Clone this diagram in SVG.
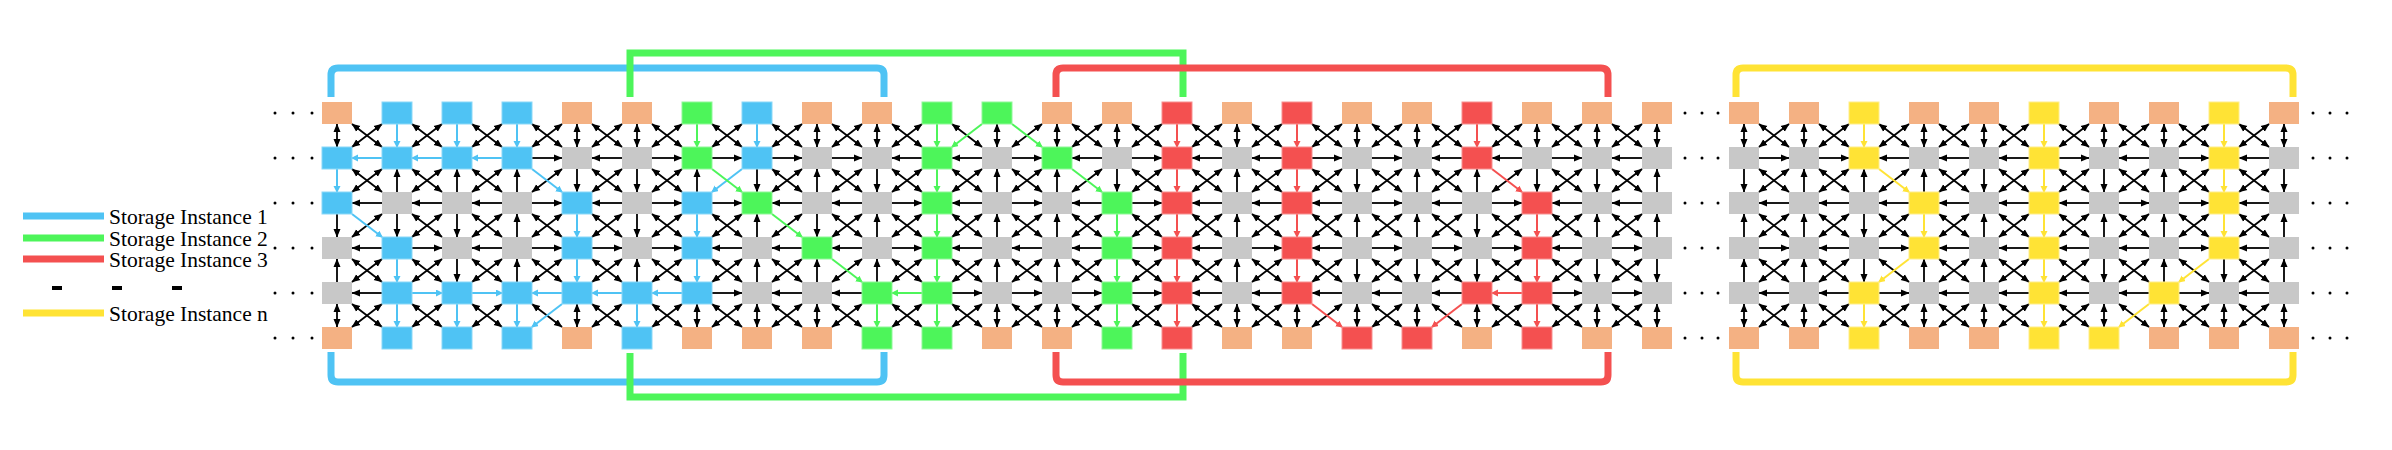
<svg xmlns="http://www.w3.org/2000/svg" xmlns:xlink="http://www.w3.org/1999/xlink" width="2392" height="450" viewBox="0 0 2392 450">
<style>
rect.o{fill:#F4B183}rect.b{fill:#4FC3F4;stroke:#8AD8F8}rect.g{fill:#4DF55A;stroke:#90F898}rect.r{fill:#F45050;stroke:#F89090}rect.y{fill:#FFE335;stroke:#FFEE88}rect.n{fill:#C8C8C8}
.k{stroke:#000;stroke-width:1.8;fill:none}
.cb{stroke:#4FC3F4;stroke-width:2}.cg{stroke:#4DF55A;stroke-width:2}.cr{stroke:#F45050;stroke-width:2}.cy{stroke:#FFE335;stroke-width:2}
.fr{fill:none;stroke-width:7}
.lg{font-family:"Liberation Serif",serif;font-size:21.5px;fill:#000}
</style>
<defs>
<marker id="mk" markerUnits="userSpaceOnUse" markerWidth="9" markerHeight="8" refX="8" refY="4" orient="auto-start-reverse"><path d="M0,0.5 L8.5,4 L0,7.5 z" fill="#000"/></marker>
<marker id="mb" markerUnits="userSpaceOnUse" markerWidth="8" markerHeight="8" refX="6" refY="3.5" orient="auto"><path d="M0,0 L7,3.5 L0,7 z" fill="#4FC3F4"/></marker>
<marker id="mg" markerUnits="userSpaceOnUse" markerWidth="8" markerHeight="8" refX="6" refY="3.5" orient="auto"><path d="M0,0 L7,3.5 L0,7 z" fill="#4DF55A"/></marker>
<marker id="mr" markerUnits="userSpaceOnUse" markerWidth="8" markerHeight="8" refX="6" refY="3.5" orient="auto"><path d="M0,0 L7,3.5 L0,7 z" fill="#F45050"/></marker>
<marker id="my" markerUnits="userSpaceOnUse" markerWidth="8" markerHeight="8" refX="6" refY="3.5" orient="auto"><path d="M0,0 L7,3.5 L0,7 z" fill="#FFE335"/></marker>
<line id="D" class="k" x1="0" y1="11" x2="0" y2="34" marker-start="url(#mk)" marker-end="url(#mk)"/>
<line id="d" class="k" x1="0" y1="11" x2="0" y2="34" marker-end="url(#mk)"/>
<line id="u" class="k" x1="0" y1="34" x2="0" y2="11" marker-end="url(#mk)"/>
<line id="r" class="k" x1="15" y1="0" x2="45" y2="0" marker-end="url(#mk)"/>
<line id="l" class="k" x1="45" y1="0" x2="15" y2="0" marker-end="url(#mk)"/>
<line id="BS" class="k" x1="15" y1="11" x2="45" y2="34" marker-start="url(#mk)" marker-end="url(#mk)"/>
<line id="FS" class="k" x1="45" y1="11" x2="15" y2="34" marker-start="url(#mk)" marker-end="url(#mk)"/>
<g id="X"><use href="#BS"/><use href="#FS"/></g>
<line id="vB" class="cb" x1="0" y1="11" x2="0" y2="34" marker-end="url(#mb)"/>
<line id="vG" class="cg" x1="0" y1="11" x2="0" y2="34" marker-end="url(#mg)"/>
<line id="vR" class="cr" x1="0" y1="11" x2="0" y2="34" marker-end="url(#mr)"/>
<line id="vY" class="cy" x1="0" y1="11" x2="0" y2="34" marker-end="url(#my)"/>
<line id="lB" class="cb" x1="45" y1="0" x2="15" y2="0" marker-end="url(#mb)"/>
<line id="rB" class="cb" x1="15" y1="0" x2="45" y2="0" marker-end="url(#mb)"/>
<line id="lG" class="cg" x1="45" y1="0" x2="15" y2="0" marker-end="url(#mg)"/>
<line id="lR" class="cr" x1="45" y1="0" x2="15" y2="0" marker-end="url(#mr)"/>
<line id="bB" class="cb" x1="15" y1="11" x2="45" y2="34" marker-end="url(#mb)"/>
<line id="fB" class="cb" x1="45" y1="11" x2="15" y2="34" marker-end="url(#mb)"/>
<line id="bG" class="cg" x1="15" y1="11" x2="45" y2="34" marker-end="url(#mg)"/>
<line id="fG" class="cg" x1="45" y1="11" x2="15" y2="34" marker-end="url(#mg)"/>
<line id="bR" class="cr" x1="15" y1="11" x2="45" y2="34" marker-end="url(#mr)"/>
<line id="fR" class="cr" x1="45" y1="11" x2="15" y2="34" marker-end="url(#mr)"/>
<line id="bY" class="cy" x1="15" y1="11" x2="45" y2="34" marker-end="url(#my)"/>
<line id="fY" class="cy" x1="45" y1="11" x2="15" y2="34" marker-end="url(#my)"/>
</defs>
<rect width="2392" height="450" fill="#fff"/>

<g id="frames">
<path class="fr" stroke="#4FC3F4" d="M331,97 V75 Q331,68 338,68 H877 Q884,68 884,75 V97 M331,352 V375 Q331,382 338,382 H877 Q884,382 884,375 V352"/>
<path class="fr" stroke="#4DF55A" d="M630,97 V53 H1183 V97 M630,353 V397 H1183 V353"/>
<path class="fr" stroke="#F45050" d="M1056,97 V75 Q1056,68 1063,68 H1601 Q1608,68 1608,75 V97 M1056,352 V375 Q1056,382 1063,382 H1601 Q1608,382 1608,375 V352"/>
<path class="fr" stroke="#FFE335" d="M1736,97 V75 Q1736,68 1743,68 H2286 Q2293,68 2293,75 V97 M1736,352 V375 Q1736,382 1743,382 H2286 Q2293,382 2293,375 V352"/>
</g>

<g id="legend">
<line x1="23" y1="216" x2="104" y2="216" stroke="#4FC3F4" stroke-width="7"/>
<line x1="23" y1="238" x2="104" y2="238" stroke="#4DF55A" stroke-width="7"/>
<line x1="23" y1="259" x2="104" y2="259" stroke="#F45050" stroke-width="7"/>
<line x1="23" y1="313" x2="104" y2="313" stroke="#FFE335" stroke-width="7"/>
<rect x="52" y="286" width="10" height="4"/><rect x="112" y="286" width="10" height="4"/><rect x="172" y="286" width="10" height="4"/>
<text class="lg" x="109" y="224">Storage Instance 1</text>
<text class="lg" x="109" y="246">Storage Instance 2</text>
<text class="lg" x="109" y="267">Storage Instance 3</text>
<text class="lg" x="109" y="321">Storage Instance n</text>
</g>

<g id="dots" fill="#000">
<circle cx="275" cy="113" r="1.5"/><circle cx="293" cy="113" r="1.5"/><circle cx="312" cy="113" r="1.5"/>
<circle cx="275" cy="158" r="1.5"/><circle cx="293" cy="158" r="1.5"/><circle cx="312" cy="158" r="1.5"/>
<circle cx="275" cy="203" r="1.5"/><circle cx="293" cy="203" r="1.5"/><circle cx="312" cy="203" r="1.5"/>
<circle cx="275" cy="248" r="1.5"/><circle cx="293" cy="248" r="1.5"/><circle cx="312" cy="248" r="1.5"/>
<circle cx="275" cy="293" r="1.5"/><circle cx="293" cy="293" r="1.5"/><circle cx="312" cy="293" r="1.5"/>
<circle cx="275" cy="338" r="1.5"/><circle cx="293" cy="338" r="1.5"/><circle cx="312" cy="338" r="1.5"/>
<circle cx="1685" cy="113" r="1.5"/><circle cx="1702" cy="113" r="1.5"/><circle cx="1718" cy="113" r="1.5"/>
<circle cx="1685" cy="158" r="1.5"/><circle cx="1702" cy="158" r="1.5"/><circle cx="1718" cy="158" r="1.5"/>
<circle cx="1685" cy="203" r="1.5"/><circle cx="1702" cy="203" r="1.5"/><circle cx="1718" cy="203" r="1.5"/>
<circle cx="1685" cy="248" r="1.5"/><circle cx="1702" cy="248" r="1.5"/><circle cx="1718" cy="248" r="1.5"/>
<circle cx="1685" cy="293" r="1.5"/><circle cx="1702" cy="293" r="1.5"/><circle cx="1718" cy="293" r="1.5"/>
<circle cx="1685" cy="338" r="1.5"/><circle cx="1702" cy="338" r="1.5"/><circle cx="1718" cy="338" r="1.5"/>
<circle cx="2313" cy="113" r="1.5"/><circle cx="2330" cy="113" r="1.5"/><circle cx="2347" cy="113" r="1.5"/>
<circle cx="2313" cy="158" r="1.5"/><circle cx="2330" cy="158" r="1.5"/><circle cx="2347" cy="158" r="1.5"/>
<circle cx="2313" cy="203" r="1.5"/><circle cx="2330" cy="203" r="1.5"/><circle cx="2347" cy="203" r="1.5"/>
<circle cx="2313" cy="248" r="1.5"/><circle cx="2330" cy="248" r="1.5"/><circle cx="2347" cy="248" r="1.5"/>
<circle cx="2313" cy="293" r="1.5"/><circle cx="2330" cy="293" r="1.5"/><circle cx="2347" cy="293" r="1.5"/>
<circle cx="2313" cy="338" r="1.5"/><circle cx="2330" cy="338" r="1.5"/><circle cx="2347" cy="338" r="1.5"/>
</g>

<g id="connectors">
<!-- diagonals left -->
<use href="#X" x="337" y="113"/><use href="#X" x="337" y="158"/><use href="#FS" x="337" y="203"/><use href="#bB" x="337" y="203"/><use href="#X" x="337" y="248"/><use href="#X" x="337" y="293"/>
<use href="#X" x="397" y="113"/><use href="#X" x="397" y="158"/><use href="#X" x="397" y="203"/><use href="#X" x="397" y="248"/><use href="#X" x="397" y="293"/>
<use href="#X" x="457" y="113"/><use href="#X" x="457" y="158"/><use href="#X" x="457" y="203"/><use href="#X" x="457" y="248"/><use href="#X" x="457" y="293"/>
<use href="#X" x="517" y="113"/><use href="#FS" x="517" y="158"/><use href="#bB" x="517" y="158"/><use href="#X" x="517" y="203"/><use href="#X" x="517" y="248"/><use href="#BS" x="517" y="293"/><use href="#fB" x="517" y="293"/>
<use href="#X" x="577" y="113"/><use href="#X" x="577" y="158"/><use href="#X" x="577" y="203"/><use href="#X" x="577" y="248"/><use href="#X" x="577" y="293"/>
<use href="#X" x="637" y="113"/><use href="#X" x="637" y="158"/><use href="#X" x="637" y="203"/><use href="#X" x="637" y="248"/><use href="#X" x="637" y="293"/>
<use href="#X" x="697" y="113"/><use href="#fB" x="697" y="158"/><use href="#bG" x="697" y="158"/><use href="#X" x="697" y="203"/><use href="#X" x="697" y="248"/><use href="#X" x="697" y="293"/>
<use href="#X" x="757" y="113"/><use href="#X" x="757" y="158"/><use href="#FS" x="757" y="203"/><use href="#bG" x="757" y="203"/><use href="#X" x="757" y="248"/><use href="#X" x="757" y="293"/>
<use href="#X" x="817" y="113"/><use href="#X" x="817" y="158"/><use href="#X" x="817" y="203"/><use href="#FS" x="817" y="248"/><use href="#bG" x="817" y="248"/><use href="#X" x="817" y="293"/>
<use href="#X" x="877" y="113"/><use href="#X" x="877" y="158"/><use href="#X" x="877" y="203"/><use href="#X" x="877" y="248"/><use href="#X" x="877" y="293"/>
<use href="#BS" x="937" y="113"/><use href="#fG" x="937" y="113"/><use href="#X" x="937" y="158"/><use href="#X" x="937" y="203"/><use href="#X" x="937" y="248"/><use href="#X" x="937" y="293"/>
<use href="#FS" x="997" y="113"/><use href="#bG" x="997" y="113"/><use href="#X" x="997" y="158"/><use href="#X" x="997" y="203"/><use href="#X" x="997" y="248"/><use href="#X" x="997" y="293"/>
<use href="#X" x="1057" y="113"/><use href="#FS" x="1057" y="158"/><use href="#bG" x="1057" y="158"/><use href="#X" x="1057" y="203"/><use href="#X" x="1057" y="248"/><use href="#X" x="1057" y="293"/>
<use href="#X" x="1117" y="113"/><use href="#X" x="1117" y="158"/><use href="#X" x="1117" y="203"/><use href="#X" x="1117" y="248"/><use href="#X" x="1117" y="293"/>
<use href="#X" x="1177" y="113"/><use href="#X" x="1177" y="158"/><use href="#X" x="1177" y="203"/><use href="#X" x="1177" y="248"/><use href="#X" x="1177" y="293"/>
<use href="#X" x="1237" y="113"/><use href="#X" x="1237" y="158"/><use href="#X" x="1237" y="203"/><use href="#X" x="1237" y="248"/><use href="#X" x="1237" y="293"/>
<use href="#X" x="1297" y="113"/><use href="#X" x="1297" y="158"/><use href="#X" x="1297" y="203"/><use href="#X" x="1297" y="248"/><use href="#FS" x="1297" y="293"/><use href="#bR" x="1297" y="293"/>
<use href="#X" x="1357" y="113"/><use href="#X" x="1357" y="158"/><use href="#X" x="1357" y="203"/><use href="#X" x="1357" y="248"/><use href="#X" x="1357" y="293"/>
<use href="#X" x="1417" y="113"/><use href="#X" x="1417" y="158"/><use href="#X" x="1417" y="203"/><use href="#X" x="1417" y="248"/><use href="#BS" x="1417" y="293"/><use href="#fR" x="1417" y="293"/>
<use href="#X" x="1477" y="113"/><use href="#FS" x="1477" y="158"/><use href="#bR" x="1477" y="158"/><use href="#X" x="1477" y="203"/><use href="#X" x="1477" y="248"/><use href="#X" x="1477" y="293"/>
<use href="#X" x="1537" y="113"/><use href="#X" x="1537" y="158"/><use href="#X" x="1537" y="203"/><use href="#X" x="1537" y="248"/><use href="#X" x="1537" y="293"/>
<use href="#X" x="1597" y="113"/><use href="#X" x="1597" y="158"/><use href="#X" x="1597" y="203"/><use href="#X" x="1597" y="248"/><use href="#X" x="1597" y="293"/>
<!-- diagonals right -->
<use href="#X" x="1744" y="113"/><use href="#X" x="1744" y="158"/><use href="#X" x="1744" y="203"/><use href="#X" x="1744" y="248"/><use href="#X" x="1744" y="293"/>
<use href="#X" x="1804" y="113"/><use href="#X" x="1804" y="158"/><use href="#X" x="1804" y="203"/><use href="#X" x="1804" y="248"/><use href="#X" x="1804" y="293"/>
<use href="#X" x="1864" y="113"/><use href="#FS" x="1864" y="158"/><use href="#bY" x="1864" y="158"/><use href="#X" x="1864" y="203"/><use href="#BS" x="1864" y="248"/><use href="#fY" x="1864" y="248"/><use href="#X" x="1864" y="293"/>
<use href="#X" x="1924" y="113"/><use href="#X" x="1924" y="158"/><use href="#X" x="1924" y="203"/><use href="#X" x="1924" y="248"/><use href="#X" x="1924" y="293"/>
<use href="#X" x="1984" y="113"/><use href="#X" x="1984" y="158"/><use href="#X" x="1984" y="203"/><use href="#X" x="1984" y="248"/><use href="#X" x="1984" y="293"/>
<use href="#X" x="2044" y="113"/><use href="#X" x="2044" y="158"/><use href="#X" x="2044" y="203"/><use href="#X" x="2044" y="248"/><use href="#X" x="2044" y="293"/>
<use href="#X" x="2104" y="113"/><use href="#X" x="2104" y="158"/><use href="#X" x="2104" y="203"/><use href="#X" x="2104" y="248"/><use href="#BS" x="2104" y="293"/><use href="#fY" x="2104" y="293"/>
<use href="#X" x="2164" y="113"/><use href="#X" x="2164" y="158"/><use href="#X" x="2164" y="203"/><use href="#BS" x="2164" y="248"/><use href="#fY" x="2164" y="248"/><use href="#X" x="2164" y="293"/>
<use href="#X" x="2224" y="113"/><use href="#X" x="2224" y="158"/><use href="#X" x="2224" y="203"/><use href="#X" x="2224" y="248"/><use href="#X" x="2224" y="293"/>
<!-- verticals left -->
<use href="#D" x="337" y="113"/><use href="#vB" x="337" y="158"/><use href="#d" x="337" y="203"/><use href="#u" x="337" y="248"/><use href="#D" x="337" y="293"/>
<use href="#vB" x="397" y="113"/><use href="#u" x="397" y="158"/><use href="#d" x="397" y="203"/><use href="#vB" x="397" y="248"/><use href="#vB" x="397" y="293"/>
<use href="#vB" x="457" y="113"/><use href="#u" x="457" y="158"/><use href="#d" x="457" y="203"/><use href="#d" x="457" y="248"/><use href="#vB" x="457" y="293"/>
<use href="#vB" x="517" y="113"/><use href="#u" x="517" y="158"/><use href="#u" x="517" y="203"/><use href="#u" x="517" y="248"/><use href="#vB" x="517" y="293"/>
<use href="#D" x="577" y="113"/><use href="#d" x="577" y="158"/><use href="#vB" x="577" y="203"/><use href="#vB" x="577" y="248"/><use href="#D" x="577" y="293"/>
<use href="#D" x="637" y="113"/><use href="#d" x="637" y="158"/><use href="#d" x="637" y="203"/><use href="#u" x="637" y="248"/><use href="#vB" x="637" y="293"/>
<use href="#vG" x="697" y="113"/><use href="#u" x="697" y="158"/><use href="#vB" x="697" y="203"/><use href="#vB" x="697" y="248"/><use href="#D" x="697" y="293"/>
<use href="#vB" x="757" y="113"/><use href="#d" x="757" y="158"/><use href="#u" x="757" y="203"/><use href="#u" x="757" y="248"/><use href="#D" x="757" y="293"/>
<use href="#D" x="817" y="113"/><use href="#u" x="817" y="158"/><use href="#d" x="817" y="203"/><use href="#u" x="817" y="248"/><use href="#D" x="817" y="293"/>
<use href="#D" x="877" y="113"/><use href="#d" x="877" y="158"/><use href="#u" x="877" y="203"/><use href="#u" x="877" y="248"/><use href="#vG" x="877" y="293"/>
<use href="#vG" x="937" y="113"/><use href="#vG" x="937" y="158"/><use href="#vG" x="937" y="203"/><use href="#vG" x="937" y="248"/><use href="#vG" x="937" y="293"/>
<use href="#D" x="997" y="113"/><use href="#u" x="997" y="158"/><use href="#u" x="997" y="203"/><use href="#u" x="997" y="248"/><use href="#D" x="997" y="293"/>
<use href="#D" x="1057" y="113"/><use href="#u" x="1057" y="158"/><use href="#u" x="1057" y="203"/><use href="#u" x="1057" y="248"/><use href="#D" x="1057" y="293"/>
<use href="#D" x="1117" y="113"/><use href="#d" x="1117" y="158"/><use href="#vG" x="1117" y="203"/><use href="#vG" x="1117" y="248"/><use href="#vG" x="1117" y="293"/>
<use href="#vR" x="1177" y="113"/><use href="#vR" x="1177" y="158"/><use href="#vR" x="1177" y="203"/><use href="#vR" x="1177" y="248"/><use href="#vR" x="1177" y="293"/>
<use href="#D" x="1237" y="113"/><use href="#u" x="1237" y="158"/><use href="#u" x="1237" y="203"/><use href="#u" x="1237" y="248"/><use href="#D" x="1237" y="293"/>
<use href="#vR" x="1297" y="113"/><use href="#vR" x="1297" y="158"/><use href="#vR" x="1297" y="203"/><use href="#vR" x="1297" y="248"/><use href="#D" x="1297" y="293"/>
<use href="#D" x="1357" y="113"/><use href="#d" x="1357" y="158"/><use href="#u" x="1357" y="203"/><use href="#d" x="1357" y="248"/><use href="#D" x="1357" y="293"/>
<use href="#D" x="1417" y="113"/><use href="#u" x="1417" y="158"/><use href="#u" x="1417" y="203"/><use href="#d" x="1417" y="248"/><use href="#D" x="1417" y="293"/>
<use href="#vR" x="1477" y="113"/><use href="#u" x="1477" y="158"/><use href="#d" x="1477" y="203"/><use href="#d" x="1477" y="248"/><use href="#D" x="1477" y="293"/>
<use href="#D" x="1537" y="113"/><use href="#d" x="1537" y="158"/><use href="#vR" x="1537" y="203"/><use href="#vR" x="1537" y="248"/><use href="#vR" x="1537" y="293"/>
<use href="#D" x="1597" y="113"/><use href="#d" x="1597" y="158"/><use href="#u" x="1597" y="203"/><use href="#d" x="1597" y="248"/><use href="#D" x="1597" y="293"/>
<use href="#D" x="1657" y="113"/><use href="#u" x="1657" y="158"/><use href="#u" x="1657" y="203"/><use href="#d" x="1657" y="248"/><use href="#D" x="1657" y="293"/>
<!-- verticals right -->
<use href="#D" x="1744" y="113"/><use href="#d" x="1744" y="158"/><use href="#u" x="1744" y="203"/><use href="#u" x="1744" y="248"/><use href="#D" x="1744" y="293"/>
<use href="#D" x="1804" y="113"/><use href="#u" x="1804" y="158"/><use href="#u" x="1804" y="203"/><use href="#u" x="1804" y="248"/><use href="#D" x="1804" y="293"/>
<use href="#vY" x="1864" y="113"/><use href="#u" x="1864" y="158"/><use href="#d" x="1864" y="203"/><use href="#d" x="1864" y="248"/><use href="#vY" x="1864" y="293"/>
<use href="#D" x="1924" y="113"/><use href="#u" x="1924" y="158"/><use href="#vY" x="1924" y="203"/><use href="#u" x="1924" y="248"/><use href="#D" x="1924" y="293"/>
<use href="#D" x="1984" y="113"/><use href="#d" x="1984" y="158"/><use href="#u" x="1984" y="203"/><use href="#u" x="1984" y="248"/><use href="#D" x="1984" y="293"/>
<use href="#vY" x="2044" y="113"/><use href="#vY" x="2044" y="158"/><use href="#vY" x="2044" y="203"/><use href="#vY" x="2044" y="248"/><use href="#vY" x="2044" y="293"/>
<use href="#D" x="2104" y="113"/><use href="#d" x="2104" y="158"/><use href="#u" x="2104" y="203"/><use href="#d" x="2104" y="248"/><use href="#D" x="2104" y="293"/>
<use href="#D" x="2164" y="113"/><use href="#u" x="2164" y="158"/><use href="#u" x="2164" y="203"/><use href="#u" x="2164" y="248"/><use href="#D" x="2164" y="293"/>
<use href="#vY" x="2224" y="113"/><use href="#vY" x="2224" y="158"/><use href="#vY" x="2224" y="203"/><use href="#d" x="2224" y="248"/><use href="#D" x="2224" y="293"/>
<use href="#D" x="2284" y="113"/><use href="#d" x="2284" y="158"/><use href="#u" x="2284" y="203"/><use href="#u" x="2284" y="248"/><use href="#D" x="2284" y="293"/>
<!-- horizontals left row1 -->
<use href="#lB" x="337" y="158"/><use href="#lB" x="397" y="158"/><use href="#lB" x="457" y="158"/><use href="#r" x="517" y="158"/><use href="#l" x="577" y="158"/><use href="#r" x="637" y="158"/><use href="#r" x="697" y="158"/><use href="#r" x="757" y="158"/><use href="#r" x="817" y="158"/><use href="#l" x="877" y="158"/><use href="#l" x="937" y="158"/><use href="#r" x="997" y="158"/><use href="#l" x="1057" y="158"/><use href="#r" x="1117" y="158"/><use href="#l" x="1177" y="158"/><use href="#l" x="1237" y="158"/><use href="#r" x="1297" y="158"/><use href="#r" x="1357" y="158"/><use href="#l" x="1417" y="158"/><use href="#l" x="1477" y="158"/><use href="#r" x="1537" y="158"/><use href="#l" x="1597" y="158"/>
<!-- row2 -->
<use href="#l" x="337" y="203"/><use href="#l" x="397" y="203"/><use href="#l" x="457" y="203"/><use href="#r" x="517" y="203"/><use href="#l" x="577" y="203"/><use href="#r" x="637" y="203"/><use href="#r" x="697" y="203"/><use href="#l" x="757" y="203"/><use href="#l" x="817" y="203"/><use href="#r" x="877" y="203"/><use href="#l" x="937" y="203"/><use href="#r" x="997" y="203"/><use href="#l" x="1057" y="203"/><use href="#r" x="1117" y="203"/><use href="#l" x="1177" y="203"/><use href="#l" x="1237" y="203"/><use href="#l" x="1297" y="203"/><use href="#r" x="1357" y="203"/><use href="#l" x="1417" y="203"/><use href="#r" x="1477" y="203"/><use href="#l" x="1537" y="203"/><use href="#l" x="1597" y="203"/>
<!-- row3 -->
<use href="#l" x="337" y="248"/><use href="#r" x="397" y="248"/><use href="#l" x="457" y="248"/><use href="#r" x="517" y="248"/><use href="#r" x="577" y="248"/><use href="#r" x="637" y="248"/><use href="#l" x="697" y="248"/><use href="#l" x="757" y="248"/><use href="#l" x="817" y="248"/><use href="#r" x="877" y="248"/><use href="#l" x="937" y="248"/><use href="#l" x="997" y="248"/><use href="#l" x="1057" y="248"/><use href="#r" x="1117" y="248"/><use href="#l" x="1177" y="248"/><use href="#r" x="1237" y="248"/><use href="#l" x="1297" y="248"/><use href="#r" x="1357" y="248"/><use href="#r" x="1417" y="248"/><use href="#r" x="1477" y="248"/><use href="#l" x="1537" y="248"/><use href="#r" x="1597" y="248"/>
<!-- row4 -->
<use href="#l" x="337" y="293"/><use href="#rB" x="397" y="293"/><use href="#rB" x="457" y="293"/><use href="#lB" x="517" y="293"/><use href="#lB" x="577" y="293"/><use href="#lB" x="637" y="293"/><use href="#r" x="697" y="293"/><use href="#l" x="757" y="293"/><use href="#l" x="817" y="293"/><use href="#lG" x="877" y="293"/><use href="#r" x="937" y="293"/><use href="#r" x="997" y="293"/><use href="#r" x="1057" y="293"/><use href="#r" x="1117" y="293"/><use href="#l" x="1177" y="293"/><use href="#l" x="1237" y="293"/><use href="#l" x="1297" y="293"/><use href="#l" x="1357" y="293"/><use href="#l" x="1417" y="293"/><use href="#lR" x="1477" y="293"/><use href="#r" x="1537" y="293"/><use href="#r" x="1597" y="293"/>
<!-- horizontals right -->
<use href="#r" x="1744" y="158"/><use href="#r" x="1804" y="158"/><use href="#l" x="1864" y="158"/><use href="#l" x="1924" y="158"/><use href="#l" x="1984" y="158"/><use href="#r" x="2044" y="158"/><use href="#l" x="2104" y="158"/><use href="#r" x="2164" y="158"/><use href="#l" x="2224" y="158"/>
<use href="#l" x="1744" y="203"/><use href="#l" x="1804" y="203"/><use href="#l" x="1864" y="203"/><use href="#l" x="1924" y="203"/><use href="#l" x="1984" y="203"/><use href="#l" x="2044" y="203"/><use href="#r" x="2104" y="203"/><use href="#r" x="2164" y="203"/><use href="#l" x="2224" y="203"/>
<use href="#r" x="1744" y="248"/><use href="#l" x="1804" y="248"/><use href="#r" x="1864" y="248"/><use href="#l" x="1924" y="248"/><use href="#l" x="1984" y="248"/><use href="#l" x="2044" y="248"/><use href="#l" x="2104" y="248"/><use href="#r" x="2164" y="248"/><use href="#l" x="2224" y="248"/>
<use href="#l" x="1744" y="293"/><use href="#l" x="1804" y="293"/><use href="#r" x="1864" y="293"/><use href="#l" x="1924" y="293"/><use href="#l" x="1984" y="293"/><use href="#l" x="2044" y="293"/><use href="#l" x="2104" y="293"/><use href="#r" x="2164" y="293"/><use href="#l" x="2224" y="293"/>
</g>

<g id="nodes">
<!-- row0 -->
<g id="n0-0"><rect class="o" x="322" y="102" width="30" height="22"/></g>
<g id="n1-0"><rect class="b" x="382" y="102" width="30" height="22"/></g>
<g id="n2-0"><rect class="b" x="442" y="102" width="30" height="22"/></g>
<g id="n3-0"><rect class="b" x="502" y="102" width="30" height="22"/></g>
<g id="n4-0"><rect class="o" x="562" y="102" width="30" height="22"/></g>
<g id="n5-0"><rect class="o" x="622" y="102" width="30" height="22"/></g>
<g id="n6-0"><rect class="g" x="682" y="102" width="30" height="22"/></g>
<g id="n7-0"><rect class="b" x="742" y="102" width="30" height="22"/></g>
<g id="n8-0"><rect class="o" x="802" y="102" width="30" height="22"/></g>
<g id="n9-0"><rect class="o" x="862" y="102" width="30" height="22"/></g>
<g id="n10-0"><rect class="g" x="922" y="102" width="30" height="22"/></g>
<g id="n11-0"><rect class="g" x="982" y="102" width="30" height="22"/></g>
<g id="n12-0"><rect class="o" x="1042" y="102" width="30" height="22"/></g>
<g id="n13-0"><rect class="o" x="1102" y="102" width="30" height="22"/></g>
<g id="n14-0"><rect class="r" x="1162" y="102" width="30" height="22"/></g>
<g id="n15-0"><rect class="o" x="1222" y="102" width="30" height="22"/></g>
<g id="n16-0"><rect class="r" x="1282" y="102" width="30" height="22"/></g>
<g id="n17-0"><rect class="o" x="1342" y="102" width="30" height="22"/></g>
<g id="n18-0"><rect class="o" x="1402" y="102" width="30" height="22"/></g>
<g id="n19-0"><rect class="r" x="1462" y="102" width="30" height="22"/></g>
<g id="n20-0"><rect class="o" x="1522" y="102" width="30" height="22"/></g>
<g id="n21-0"><rect class="o" x="1582" y="102" width="30" height="22"/></g>
<g id="n22-0"><rect class="o" x="1642" y="102" width="30" height="22"/></g>
<!-- row1 -->
<g id="n0-1"><rect class="b" x="322" y="147" width="30" height="22"/></g>
<g id="n1-1"><rect class="b" x="382" y="147" width="30" height="22"/></g>
<g id="n2-1"><rect class="b" x="442" y="147" width="30" height="22"/></g>
<g id="n3-1"><rect class="b" x="502" y="147" width="30" height="22"/></g>
<g id="n4-1"><rect class="n" x="562" y="147" width="30" height="22"/></g>
<g id="n5-1"><rect class="n" x="622" y="147" width="30" height="22"/></g>
<g id="n6-1"><rect class="g" x="682" y="147" width="30" height="22"/></g>
<g id="n7-1"><rect class="b" x="742" y="147" width="30" height="22"/></g>
<g id="n8-1"><rect class="n" x="802" y="147" width="30" height="22"/></g>
<g id="n9-1"><rect class="n" x="862" y="147" width="30" height="22"/></g>
<g id="n10-1"><rect class="g" x="922" y="147" width="30" height="22"/></g>
<g id="n11-1"><rect class="n" x="982" y="147" width="30" height="22"/></g>
<g id="n12-1"><rect class="g" x="1042" y="147" width="30" height="22"/></g>
<g id="n13-1"><rect class="n" x="1102" y="147" width="30" height="22"/></g>
<g id="n14-1"><rect class="r" x="1162" y="147" width="30" height="22"/></g>
<g id="n15-1"><rect class="n" x="1222" y="147" width="30" height="22"/></g>
<g id="n16-1"><rect class="r" x="1282" y="147" width="30" height="22"/></g>
<g id="n17-1"><rect class="n" x="1342" y="147" width="30" height="22"/></g>
<g id="n18-1"><rect class="n" x="1402" y="147" width="30" height="22"/></g>
<g id="n19-1"><rect class="r" x="1462" y="147" width="30" height="22"/></g>
<g id="n20-1"><rect class="n" x="1522" y="147" width="30" height="22"/></g>
<g id="n21-1"><rect class="n" x="1582" y="147" width="30" height="22"/></g>
<g id="n22-1"><rect class="n" x="1642" y="147" width="30" height="22"/></g>
<!-- row2 -->
<g id="n0-2"><rect class="b" x="322" y="192" width="30" height="22"/></g>
<g id="n1-2"><rect class="n" x="382" y="192" width="30" height="22"/></g>
<g id="n2-2"><rect class="n" x="442" y="192" width="30" height="22"/></g>
<g id="n3-2"><rect class="n" x="502" y="192" width="30" height="22"/></g>
<g id="n4-2"><rect class="b" x="562" y="192" width="30" height="22"/></g>
<g id="n5-2"><rect class="n" x="622" y="192" width="30" height="22"/></g>
<g id="n6-2"><rect class="b" x="682" y="192" width="30" height="22"/></g>
<g id="n7-2"><rect class="g" x="742" y="192" width="30" height="22"/></g>
<g id="n8-2"><rect class="n" x="802" y="192" width="30" height="22"/></g>
<g id="n9-2"><rect class="n" x="862" y="192" width="30" height="22"/></g>
<g id="n10-2"><rect class="g" x="922" y="192" width="30" height="22"/></g>
<g id="n11-2"><rect class="n" x="982" y="192" width="30" height="22"/></g>
<g id="n12-2"><rect class="n" x="1042" y="192" width="30" height="22"/></g>
<g id="n13-2"><rect class="g" x="1102" y="192" width="30" height="22"/></g>
<g id="n14-2"><rect class="r" x="1162" y="192" width="30" height="22"/></g>
<g id="n15-2"><rect class="n" x="1222" y="192" width="30" height="22"/></g>
<g id="n16-2"><rect class="r" x="1282" y="192" width="30" height="22"/></g>
<g id="n17-2"><rect class="n" x="1342" y="192" width="30" height="22"/></g>
<g id="n18-2"><rect class="n" x="1402" y="192" width="30" height="22"/></g>
<g id="n19-2"><rect class="n" x="1462" y="192" width="30" height="22"/></g>
<g id="n20-2"><rect class="r" x="1522" y="192" width="30" height="22"/></g>
<g id="n21-2"><rect class="n" x="1582" y="192" width="30" height="22"/></g>
<g id="n22-2"><rect class="n" x="1642" y="192" width="30" height="22"/></g>
<!-- row3 -->
<g id="n0-3"><rect class="n" x="322" y="237" width="30" height="22"/></g>
<g id="n1-3"><rect class="b" x="382" y="237" width="30" height="22"/></g>
<g id="n2-3"><rect class="n" x="442" y="237" width="30" height="22"/></g>
<g id="n3-3"><rect class="n" x="502" y="237" width="30" height="22"/></g>
<g id="n4-3"><rect class="b" x="562" y="237" width="30" height="22"/></g>
<g id="n5-3"><rect class="n" x="622" y="237" width="30" height="22"/></g>
<g id="n6-3"><rect class="b" x="682" y="237" width="30" height="22"/></g>
<g id="n7-3"><rect class="n" x="742" y="237" width="30" height="22"/></g>
<g id="n8-3"><rect class="g" x="802" y="237" width="30" height="22"/></g>
<g id="n9-3"><rect class="n" x="862" y="237" width="30" height="22"/></g>
<g id="n10-3"><rect class="g" x="922" y="237" width="30" height="22"/></g>
<g id="n11-3"><rect class="n" x="982" y="237" width="30" height="22"/></g>
<g id="n12-3"><rect class="n" x="1042" y="237" width="30" height="22"/></g>
<g id="n13-3"><rect class="g" x="1102" y="237" width="30" height="22"/></g>
<g id="n14-3"><rect class="r" x="1162" y="237" width="30" height="22"/></g>
<g id="n15-3"><rect class="n" x="1222" y="237" width="30" height="22"/></g>
<g id="n16-3"><rect class="r" x="1282" y="237" width="30" height="22"/></g>
<g id="n17-3"><rect class="n" x="1342" y="237" width="30" height="22"/></g>
<g id="n18-3"><rect class="n" x="1402" y="237" width="30" height="22"/></g>
<g id="n19-3"><rect class="n" x="1462" y="237" width="30" height="22"/></g>
<g id="n20-3"><rect class="r" x="1522" y="237" width="30" height="22"/></g>
<g id="n21-3"><rect class="n" x="1582" y="237" width="30" height="22"/></g>
<g id="n22-3"><rect class="n" x="1642" y="237" width="30" height="22"/></g>
<!-- row4 -->
<g id="n0-4"><rect class="n" x="322" y="282" width="30" height="22"/></g>
<g id="n1-4"><rect class="b" x="382" y="282" width="30" height="22"/></g>
<g id="n2-4"><rect class="b" x="442" y="282" width="30" height="22"/></g>
<g id="n3-4"><rect class="b" x="502" y="282" width="30" height="22"/></g>
<g id="n4-4"><rect class="b" x="562" y="282" width="30" height="22"/></g>
<g id="n5-4"><rect class="b" x="622" y="282" width="30" height="22"/></g>
<g id="n6-4"><rect class="b" x="682" y="282" width="30" height="22"/></g>
<g id="n7-4"><rect class="n" x="742" y="282" width="30" height="22"/></g>
<g id="n8-4"><rect class="n" x="802" y="282" width="30" height="22"/></g>
<g id="n9-4"><rect class="g" x="862" y="282" width="30" height="22"/></g>
<g id="n10-4"><rect class="g" x="922" y="282" width="30" height="22"/></g>
<g id="n11-4"><rect class="n" x="982" y="282" width="30" height="22"/></g>
<g id="n12-4"><rect class="n" x="1042" y="282" width="30" height="22"/></g>
<g id="n13-4"><rect class="g" x="1102" y="282" width="30" height="22"/></g>
<g id="n14-4"><rect class="r" x="1162" y="282" width="30" height="22"/></g>
<g id="n15-4"><rect class="n" x="1222" y="282" width="30" height="22"/></g>
<g id="n16-4"><rect class="r" x="1282" y="282" width="30" height="22"/></g>
<g id="n17-4"><rect class="n" x="1342" y="282" width="30" height="22"/></g>
<g id="n18-4"><rect class="n" x="1402" y="282" width="30" height="22"/></g>
<g id="n19-4"><rect class="r" x="1462" y="282" width="30" height="22"/></g>
<g id="n20-4"><rect class="r" x="1522" y="282" width="30" height="22"/></g>
<g id="n21-4"><rect class="n" x="1582" y="282" width="30" height="22"/></g>
<g id="n22-4"><rect class="n" x="1642" y="282" width="30" height="22"/></g>
<!-- row5 -->
<g id="n0-5"><rect class="o" x="322" y="327" width="30" height="22"/></g>
<g id="n1-5"><rect class="b" x="382" y="327" width="30" height="22"/></g>
<g id="n2-5"><rect class="b" x="442" y="327" width="30" height="22"/></g>
<g id="n3-5"><rect class="b" x="502" y="327" width="30" height="22"/></g>
<g id="n4-5"><rect class="o" x="562" y="327" width="30" height="22"/></g>
<g id="n5-5"><rect class="b" x="622" y="327" width="30" height="22"/></g>
<g id="n6-5"><rect class="o" x="682" y="327" width="30" height="22"/></g>
<g id="n7-5"><rect class="o" x="742" y="327" width="30" height="22"/></g>
<g id="n8-5"><rect class="o" x="802" y="327" width="30" height="22"/></g>
<g id="n9-5"><rect class="g" x="862" y="327" width="30" height="22"/></g>
<g id="n10-5"><rect class="g" x="922" y="327" width="30" height="22"/></g>
<g id="n11-5"><rect class="o" x="982" y="327" width="30" height="22"/></g>
<g id="n12-5"><rect class="o" x="1042" y="327" width="30" height="22"/></g>
<g id="n13-5"><rect class="g" x="1102" y="327" width="30" height="22"/></g>
<g id="n14-5"><rect class="r" x="1162" y="327" width="30" height="22"/></g>
<g id="n15-5"><rect class="o" x="1222" y="327" width="30" height="22"/></g>
<g id="n16-5"><rect class="o" x="1282" y="327" width="30" height="22"/></g>
<g id="n17-5"><rect class="r" x="1342" y="327" width="30" height="22"/></g>
<g id="n18-5"><rect class="r" x="1402" y="327" width="30" height="22"/></g>
<g id="n19-5"><rect class="o" x="1462" y="327" width="30" height="22"/></g>
<g id="n20-5"><rect class="r" x="1522" y="327" width="30" height="22"/></g>
<g id="n21-5"><rect class="o" x="1582" y="327" width="30" height="22"/></g>
<g id="n22-5"><rect class="o" x="1642" y="327" width="30" height="22"/></g>
<!-- right section -->
<g id="m0-0"><rect class="o" x="1729" y="102" width="30" height="22"/></g>
<g id="m1-0"><rect class="o" x="1789" y="102" width="30" height="22"/></g>
<g id="m2-0"><rect class="y" x="1849" y="102" width="30" height="22"/></g>
<g id="m3-0"><rect class="o" x="1909" y="102" width="30" height="22"/></g>
<g id="m4-0"><rect class="o" x="1969" y="102" width="30" height="22"/></g>
<g id="m5-0"><rect class="y" x="2029" y="102" width="30" height="22"/></g>
<g id="m6-0"><rect class="o" x="2089" y="102" width="30" height="22"/></g>
<g id="m7-0"><rect class="o" x="2149" y="102" width="30" height="22"/></g>
<g id="m8-0"><rect class="y" x="2209" y="102" width="30" height="22"/></g>
<g id="m9-0"><rect class="o" x="2269" y="102" width="30" height="22"/></g>
<g id="m0-1"><rect class="n" x="1729" y="147" width="30" height="22"/></g>
<g id="m1-1"><rect class="n" x="1789" y="147" width="30" height="22"/></g>
<g id="m2-1"><rect class="y" x="1849" y="147" width="30" height="22"/></g>
<g id="m3-1"><rect class="n" x="1909" y="147" width="30" height="22"/></g>
<g id="m4-1"><rect class="n" x="1969" y="147" width="30" height="22"/></g>
<g id="m5-1"><rect class="y" x="2029" y="147" width="30" height="22"/></g>
<g id="m6-1"><rect class="n" x="2089" y="147" width="30" height="22"/></g>
<g id="m7-1"><rect class="n" x="2149" y="147" width="30" height="22"/></g>
<g id="m8-1"><rect class="y" x="2209" y="147" width="30" height="22"/></g>
<g id="m9-1"><rect class="n" x="2269" y="147" width="30" height="22"/></g>
<g id="m0-2"><rect class="n" x="1729" y="192" width="30" height="22"/></g>
<g id="m1-2"><rect class="n" x="1789" y="192" width="30" height="22"/></g>
<g id="m2-2"><rect class="n" x="1849" y="192" width="30" height="22"/></g>
<g id="m3-2"><rect class="y" x="1909" y="192" width="30" height="22"/></g>
<g id="m4-2"><rect class="n" x="1969" y="192" width="30" height="22"/></g>
<g id="m5-2"><rect class="y" x="2029" y="192" width="30" height="22"/></g>
<g id="m6-2"><rect class="n" x="2089" y="192" width="30" height="22"/></g>
<g id="m7-2"><rect class="n" x="2149" y="192" width="30" height="22"/></g>
<g id="m8-2"><rect class="y" x="2209" y="192" width="30" height="22"/></g>
<g id="m9-2"><rect class="n" x="2269" y="192" width="30" height="22"/></g>
<g id="m0-3"><rect class="n" x="1729" y="237" width="30" height="22"/></g>
<g id="m1-3"><rect class="n" x="1789" y="237" width="30" height="22"/></g>
<g id="m2-3"><rect class="n" x="1849" y="237" width="30" height="22"/></g>
<g id="m3-3"><rect class="y" x="1909" y="237" width="30" height="22"/></g>
<g id="m4-3"><rect class="n" x="1969" y="237" width="30" height="22"/></g>
<g id="m5-3"><rect class="y" x="2029" y="237" width="30" height="22"/></g>
<g id="m6-3"><rect class="n" x="2089" y="237" width="30" height="22"/></g>
<g id="m7-3"><rect class="n" x="2149" y="237" width="30" height="22"/></g>
<g id="m8-3"><rect class="y" x="2209" y="237" width="30" height="22"/></g>
<g id="m9-3"><rect class="n" x="2269" y="237" width="30" height="22"/></g>
<g id="m0-4"><rect class="n" x="1729" y="282" width="30" height="22"/></g>
<g id="m1-4"><rect class="n" x="1789" y="282" width="30" height="22"/></g>
<g id="m2-4"><rect class="y" x="1849" y="282" width="30" height="22"/></g>
<g id="m3-4"><rect class="n" x="1909" y="282" width="30" height="22"/></g>
<g id="m4-4"><rect class="n" x="1969" y="282" width="30" height="22"/></g>
<g id="m5-4"><rect class="y" x="2029" y="282" width="30" height="22"/></g>
<g id="m6-4"><rect class="n" x="2089" y="282" width="30" height="22"/></g>
<g id="m7-4"><rect class="y" x="2149" y="282" width="30" height="22"/></g>
<g id="m8-4"><rect class="n" x="2209" y="282" width="30" height="22"/></g>
<g id="m9-4"><rect class="n" x="2269" y="282" width="30" height="22"/></g>
<g id="m0-5"><rect class="o" x="1729" y="327" width="30" height="22"/></g>
<g id="m1-5"><rect class="o" x="1789" y="327" width="30" height="22"/></g>
<g id="m2-5"><rect class="y" x="1849" y="327" width="30" height="22"/></g>
<g id="m3-5"><rect class="o" x="1909" y="327" width="30" height="22"/></g>
<g id="m4-5"><rect class="o" x="1969" y="327" width="30" height="22"/></g>
<g id="m5-5"><rect class="y" x="2029" y="327" width="30" height="22"/></g>
<g id="m6-5"><rect class="y" x="2089" y="327" width="30" height="22"/></g>
<g id="m7-5"><rect class="o" x="2149" y="327" width="30" height="22"/></g>
<g id="m8-5"><rect class="o" x="2209" y="327" width="30" height="22"/></g>
<g id="m9-5"><rect class="o" x="2269" y="327" width="30" height="22"/></g>
</g>
</svg>
